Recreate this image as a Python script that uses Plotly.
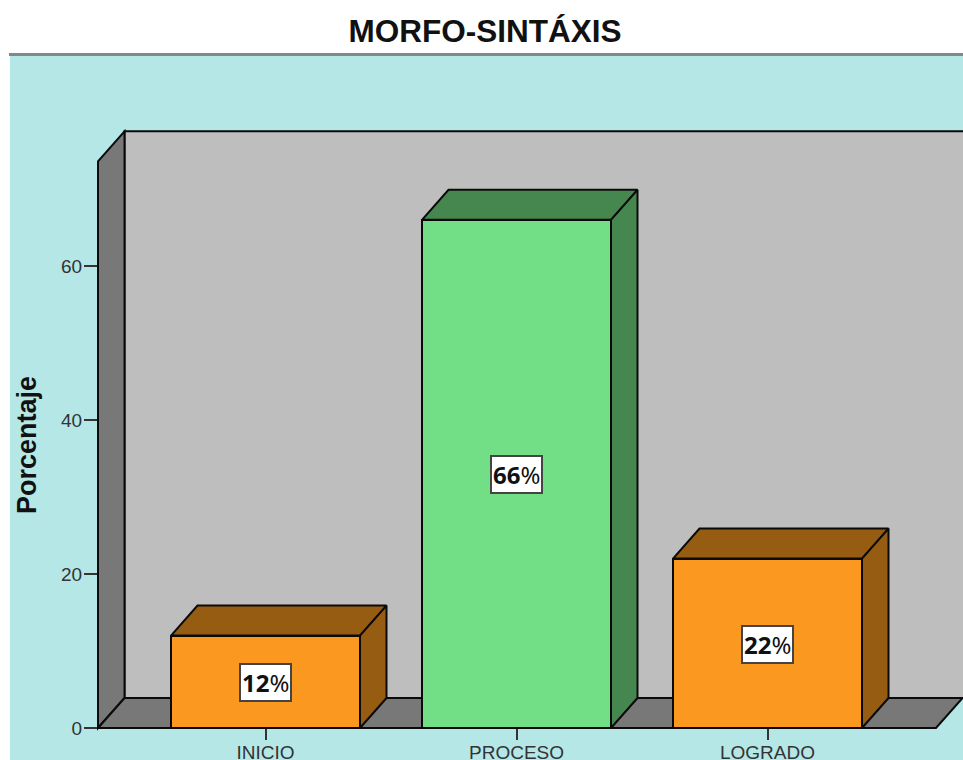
import plotly.graph_objects as go

# ---- data ----
categories = ["INICIO", "PROCESO", "LOGRADO"]
values = [12, 66, 22]
value_labels = ["12", "66", "22"]
front_colors = ["#FA981F", "#72DE85", "#FA981F"]
shade_colors = ["#965C12", "#45874F", "#965C12"]
y_ticks = [0, 20, 40, 60]

# ---- geometry of the frame (figure pixels) ----
W, H = 963, 760
X0_PX, X_STEP_PX = 265.5, 251.0     # first category centre, spacing
Y0_PX, Y_UNIT_PX = 728.0, 7.7       # value 0, pixels per unit
DEPTH_X = 26.5 / X_STEP_PX          # 3-D offset in data units
DEPTH_Y = 30.0 / Y_UNIT_PX
BAR_W = 189.0 / X_STEP_PX
WALL_FRONT_TOP = 73.6
FLOOR_X0 = (98 - X0_PX) / X_STEP_PX
FLOOR_X1 = (936 - X0_PX) / X_STEP_PX

x_range = [(0 - X0_PX) / X_STEP_PX, (W - X0_PX) / X_STEP_PX]
y_range = [(Y0_PX - H) / Y_UNIT_PX, Y0_PX / Y_UNIT_PX]


def poly(points):
    return "M" + " L".join(f"{a},{b}" for a, b in points) + " Z"


shapes = [
    # teal panel and rule under the title
    dict(type="rect", xref="paper", yref="paper", x0=10 / W, x1=1, y0=0, y1=1 - 55 / H,
         fillcolor="#B5E7E7", line_width=0, layer="below"),
    dict(type="line", xref="paper", yref="paper", x0=9 / W, x1=1, y0=1 - 54.5 / H, y1=1 - 54.5 / H,
         line=dict(color="#808888", width=3), layer="below"),
    # back wall
    dict(type="path", xref="x", yref="y", layer="below", fillcolor="#BEBEBE",
         line=dict(color="#0A0A0A", width=2),
         path=poly([(FLOOR_X0 + DEPTH_X, DEPTH_Y), (FLOOR_X0 + DEPTH_X, WALL_FRONT_TOP + DEPTH_Y),
                    (x_range[1] + 0.1, WALL_FRONT_TOP + DEPTH_Y), (x_range[1] + 0.1, DEPTH_Y)])),
    # left wall
    dict(type="path", xref="x", yref="y", layer="below", fillcolor="#787878",
         line=dict(color="#0A0A0A", width=2),
         path=poly([(FLOOR_X0, 0), (FLOOR_X0, WALL_FRONT_TOP),
                    (FLOOR_X0 + DEPTH_X, WALL_FRONT_TOP + DEPTH_Y), (FLOOR_X0 + DEPTH_X, DEPTH_Y)])),
    # floor
    dict(type="path", xref="x", yref="y", layer="below", fillcolor="#787878",
         line=dict(color="#0A0A0A", width=2),
         path=poly([(FLOOR_X0, 0), (FLOOR_X0 + DEPTH_X, DEPTH_Y), (x_range[1] + 0.1, DEPTH_Y),
                    (FLOOR_X1 + DEPTH_X, DEPTH_Y), (FLOOR_X1, 0)])),
]

fig = go.Figure()
positions = list(range(len(categories)))

# front faces
fig.add_trace(go.Bar(
    x=positions, y=values, width=BAR_W,
    marker=dict(color=front_colors, line=dict(color="#0A0A0A", width=2)),
    hoverinfo="skip", showlegend=False,
))

# top and side faces, derived from the values
for pos, val, shade in zip(positions, values, shade_colors):
    left, right = pos - BAR_W / 2, pos + BAR_W / 2
    fig.add_trace(go.Scatter(
        x=[left, left + DEPTH_X, right + DEPTH_X, right, left],
        y=[val, val + DEPTH_Y, val + DEPTH_Y, val, val],
        mode="lines", fill="toself", fillcolor=shade,
        line=dict(color="#0A0A0A", width=2), hoverinfo="skip", showlegend=False,
    ))
    fig.add_trace(go.Scatter(
        x=[right, right + DEPTH_X, right + DEPTH_X, right, right],
        y=[0, DEPTH_Y, val + DEPTH_Y, val, 0],
        mode="lines", fill="toself", fillcolor=shade,
        line=dict(color="#0A0A0A", width=2), hoverinfo="skip", showlegend=False,
    ))

annotations = [
    dict(x=pos, y=val / 2, yshift=-1, text=f"<b>{lab}</b>%", showarrow=False,
         font=dict(family="Noto Sans", size=24, color="#111111"),
         bgcolor="#FFFFFF", bordercolor="#444444", borderwidth=2, borderpad=1)
    for pos, val, lab in zip(positions, values, value_labels)
]
annotations.append(dict(
    xref="paper", yref="paper", x=27 / W, y=1 - 445 / H, xanchor="center", yanchor="middle",
    text="<b>Porcentaje</b>", textangle=-90, showarrow=False,
    font=dict(family="Liberation Sans", size=27, color="#111111"),
))

fig.update_layout(
    width=W, height=H, autosize=False,
    margin=dict(l=0, r=0, t=0, b=0, autoexpand=False),
    paper_bgcolor="#FFFFFF", plot_bgcolor="rgba(0,0,0,0)",
    title=dict(text="<b>MORFO-SINTÁXIS</b>", x=485 / W, xanchor="center", y=1 - 31 / H, yanchor="middle",
               font=dict(family="Liberation Sans", size=31.5, color="#111111")),
    shapes=shapes, annotations=annotations, showlegend=False, bargap=0,
    xaxis=dict(range=x_range, domain=[0, 1], anchor="free", position=(H - Y0_PX) / H,
               tickmode="array", tickvals=positions, ticktext=categories, ticklabelstandoff=-4,
               ticks="outside", ticklen=11, tickwidth=2, tickcolor="#333333",
               showgrid=False, zeroline=False, showline=False,
               tickfont=dict(family="Liberation Sans", size=19, color="#333333")),
    yaxis=dict(range=y_range, domain=[0, 1], anchor="free", position=97 / W,
               tickmode="array", tickvals=y_ticks, ticklabelstandoff=-2,
               ticks="outside", ticklen=13, tickwidth=2, tickcolor="#333333",
               showgrid=False, zeroline=False, showline=False,
               tickfont=dict(family="Liberation Sans", size=19, color="#333333")),
)

fig.write_html("out.html", config=dict(displayModeBar=False),
               post_script="document.body.style.margin='0';document.body.style.overflow='hidden';")
